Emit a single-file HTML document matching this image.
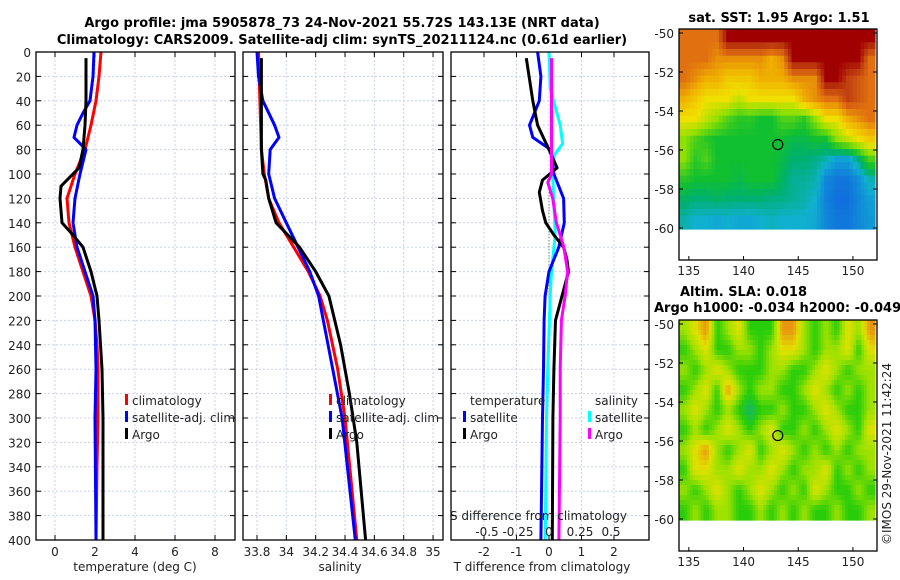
<!DOCTYPE html>
<html><head><meta charset="utf-8"><style>
body{margin:0;background:#fff}
svg{display:block;font-family:"DejaVu Sans","Liberation Sans",sans-serif}
.t{font-size:12px;fill:#222}
.b{font-weight:bold;font-size:13px;fill:#000}
</style></head><body>
<svg id="fig" width="900" height="580" viewBox="0 0 900 580">
<text class="b" x="342" y="27" text-anchor="middle">Argo profile: jma 5905878_73 24-Nov-2021 55.72S 143.13E (NRT data)</text>
<text class="b" x="342" y="44" text-anchor="middle">Climatology: CARS2009. Satellite-adj clim: synTS_20211124.nc (0.61d earlier)</text>
<text class="b" x="779" y="22" text-anchor="middle">sat. SST: 1.95 Argo: 1.51</text>
<text class="b" x="680" y="296">Altim. SLA: 0.018</text>
<text class="b" x="654" y="312">Argo h1000: -0.034 h2000: -0.049</text>
<text class="t" x="0" y="0" transform="translate(891,545) rotate(-90)">©IMOS 29-Nov-2021 11:42:24</text>
</svg>
<script>
const depthTicks=[0,20,40,60,80,100,120,140,160,180,200,220,240,260,280,300,320,340,360,380,400];
const tTicks=[0,2,4,6,8];
const sTicks=[33.8,34,34.2,34.4,34.6,34.8,35];
const dTicks=[-2,-1,0,1,2];
const dsTicks=[-0.5,-0.25,0,0.25,0.5];
const dsTickLabels=["-0.5","-0.25","0","0.25","0.5"];
// temperature profiles
const climTz=[0,20,40,60,80,100,120,140,160,180,200,220,240,260,300,340,400];
const climT=[2.3,2.2,2.05,1.8,1.5,1.0,0.6,0.7,1.0,1.4,1.8,2.0,2.1,2.15,2.15,2.1,2.05];
const satTz=[0,20,40,50,60,70,80,100,120,140,160,180,200,220,260,300,400];
const satT=[1.95,1.9,1.75,1.4,1.1,0.95,1.55,1.25,1.0,0.9,1.1,1.5,1.9,2.0,2.05,2.0,2.05];
const argoTz=[5,40,60,70,80,95,105,110,120,140,150,160,180,200,220,260,300,400];
const argoT=[1.55,1.55,1.5,1.45,1.4,1.2,0.6,0.3,0.25,0.35,0.9,1.4,1.8,2.1,2.2,2.35,2.4,2.4];
// salinity profiles
const climSz=[0,40,80,100,120,140,160,180,200,220,260,300,400];
const climS=[33.81,33.82,33.83,33.85,33.88,33.95,34.05,34.15,34.23,34.28,34.35,34.4,34.48];
const satSz=[0,20,40,60,70,80,100,120,140,160,180,200,250,300,400];
const satS=[33.80,33.81,33.84,33.92,33.95,33.89,33.88,33.92,34.0,34.08,34.16,34.22,34.3,34.38,34.47];
const argoSz=[5,80,100,105,120,140,160,180,200,240,280,320,360,400];
const argoS=[33.83,33.83,33.84,33.86,33.88,33.93,34.09,34.2,34.29,34.37,34.43,34.48,34.51,34.54];
// differences
const dTsz=[0,20,40,60,70,80,100,120,140,160,180,200,220,260,300,400];
const dTs=[-0.35,-0.25,-0.3,-0.6,-0.5,0.05,0.15,0.45,0.47,0.3,0.0,-0.12,-0.15,-0.17,-0.2,-0.25];
const dTaz=[5,40,60,80,95,105,115,130,140,150,160,170,180,190,200,220,260,300,400];
const dTa=[-0.7,-0.5,-0.35,0.0,0.25,-0.2,-0.3,-0.2,-0.1,0.15,0.45,0.55,0.6,0.5,0.4,0.2,0.15,0.12,0.1];
const dSsz=[0,30,60,75,85,100,150,180,200,260,300,400];
const dSs=[0.0,0.01,0.09,0.11,0.04,0.03,0.05,0.02,0.01,-0.01,-0.02,-0.03];
const dSaz=[5,100,107,120,140,160,180,200,220,260,300,400];
const dSa=[0.02,0.02,-0.01,0.03,0.06,0.12,0.15,0.13,0.1,0.09,0.09,0.08];
// maps
const mapLatTicks=[-50,-52,-54,-56,-58,-60];
const mapLonTicks=[135,140,145,150];
const sstGrid=[
[6,6,6,6,8,8,8,8,8,8,8,8,8,8,8,8,8,8],
[6,6,6,5.5,5.5,5.5,5.5,5.5,5,5.5,8,8,8,8,8,8,8,6],
[6,5.5,5,5,4.5,4.5,4.5,5,5,5,5.5,5.5,5.5,8,8,7,6.5,6],
[5,4.5,4,4,4,3.5,4,4,4,4,4,5,5.5,6,6,7,6.5,6],
[4,4,3.5,3,2.5,2.2,2.2,2,2,2.5,2.5,2.2,3,4,4,5,5.5,6],
[3,2.5,2.2,2,2,2,2,2,2,2,1.8,1.8,2,2,3,3.5,4,4.5],
[3,2.2,2.5,2,2,2,2,2,2,1.8,1.5,1.5,1.4,1.2,0.8,0.8,1.5,2.5],
[2.2,2,2,2,2,1.8,2,2,2,1.6,1.3,1.3,1.2,0.5,0.3,0.3,0.6,1.2],
[1.6,1.5,1.5,1.6,1.5,1.5,1.5,1.5,1.4,1.4,1.3,1.2,1.0,0.4,0.2,0.2,0.5,0.8],
[1.2,1.0,1.0,0.9,1.0,0.9,0.9,1.0,1.1,1.0,1.0,1.0,0.9,0.5,0.3,0.3,0.5,0.7]];
const slaGrid=[
[1,2,3,0,1,2,0,0,0,3,3,1,0,1,0,2,1,3],
[0,1,2,0,0,1,1,0,1,2,2,1,0,1,1,2,0,2],
[1,0,1,2,1,0,0,0,1,1,0,0,1,2,1,0,1,1],
[0,1,2,0,3,1,0,1,1,0,0,1,2,1,0,1,0,1],
[1,2,1,0,1,0,-1,0,0,1,0,0,1,2,1,0,0,1],
[0,1,0,1,2,1,0,1,2,0,0,1,0,1,2,1,0,2],
[1,2,3,1,0,1,2,0,1,2,1,0,1,0,1,0,1,1],
[0,2,2,1,1,2,1,1,2,1,0,1,1,2,0,1,0,1],
[1,0,1,2,1,0,1,2,1,0,1,0,2,1,0,0,1,0],
[0,1,0,1,1,0,0,1,0,1,0,1,0,0,1,0,0,1]];
const argoLon=143.13, argoLat=-55.72;

const NS='http://www.w3.org/2000/svg';
const svg=document.getElementById('fig');
function mk(tag,attrs,parent){const e=document.createElementNS(NS,tag);for(const k in attrs)e.setAttribute(k,attrs[k]);(parent||svg).appendChild(e);return e;}
const Y0=52,Y1=540;
const yD=d=>Y0+(d/400)*(Y1-Y0);

function panel(name,x0,x1,xs,ticks,labels){
  const g=mk('g',{});
  
  
  depthTicks.forEach(d=>{if(d>0&&d<400)mk('line',{x1:x0,x2:x1,y1:yD(d),y2:yD(d),stroke:'#c8d0f0','stroke-width':1,'stroke-dasharray':'2,2'},g);});
  ticks.forEach(v=>{const x=xs(v);mk('line',{x1:x,x2:x,y1:Y0,y2:Y1,stroke:'#c8d0f0','stroke-width':1,'stroke-dasharray':'2,2'},g);});
  ticks.forEach((v,i)=>{const x=xs(v);mk('line',{x1:x,x2:x,y1:Y1,y2:Y1-5,stroke:'#000'},g);mk('line',{x1:x,x2:x,y1:Y0,y2:Y0+5,stroke:'#000'},g);
    const t=mk('text',{x:x,y:Y1+16,'text-anchor':'middle',class:'t'},g);t.textContent=labels[i];
    
    });
  depthTicks.forEach(d=>{mk('line',{x1:x0,x2:x0+5,y1:yD(d),y2:yD(d),stroke:'#000'},g);mk('line',{x1:x1,x2:x1-5,y1:yD(d),y2:yD(d),stroke:'#000'},g);});
  return g;
}
function frame(g,x0,x1){mk('rect',{x:x0,y:Y0,width:x1-x0,height:Y1-Y0,fill:'none',stroke:'#000','stroke-width':1.3},g);}
function line(g,xs,vals,zs,color,name,w){
  const p=vals.map((v,i)=>xs(v).toFixed(1)+','+yD(zs[i]).toFixed(1)).join(' ');
  const l=mk('polyline',{points:p,fill:'none',stroke:color,'stroke-width':w||3,'stroke-linejoin':'round'},g);
  
  
}
function txt(g,x,y,s,anchor,name){const t=mk('text',{x:x,y:y,class:'t','text-anchor':anchor||'start'},g);t.textContent=s;
  
  return t;}
function legEntry(g,x,y,color,label){mk('rect',{x:x,y:y-11,width:3,height:11,fill:color},g);txt(g,x+7,y,label,'start','legend-entry');}

depthTicks.forEach(d=>{txt(svg,31,yD(d)+5,String(d),'end','y-tick-label');});

// Panel 1
const xT=v=>55+20*v;
let g1=panel('temperature-panel',36,235,xT,tTicks,tTicks.map(String));
line(g1,xT,climT,climTz,'#ff0000','climatology-temp-line');
line(g1,xT,satT,satTz,'#0000ff','satellite-temp-line');
line(g1,xT,argoT,argoTz,'#000000','argo-temp-line');
frame(g1,36,235);
legEntry(g1,125,405,'#ff0000','climatology');legEntry(g1,125,422,'#0000ff','satellite-adj. clim');legEntry(g1,125,439,'#000','Argo');
txt(g1,135,571,'temperature (deg C)','middle','x-axis-title-temperature');

// Panel 2
const xS=v=>257+(v-33.8)*146.7;
let g2=panel('salinity-panel',243,443,xS,sTicks,sTicks.map(String));
line(g2,xS,climS,climSz,'#ff0000','climatology-salinity-line');
line(g2,xS,satS,satSz,'#0000ff','satellite-salinity-line');
line(g2,xS,argoS,argoSz,'#000000','argo-salinity-line');
frame(g2,243,443);
legEntry(g2,329,405,'#ff0000','climatology');legEntry(g2,329,422,'#0000ff','satellite-adj. clim');legEntry(g2,329,439,'#000','Argo');
txt(g2,340,571,'salinity','middle','x-axis-title-salinity');

// Panel 3
const xdT=v=>549+32.5*v, xdS=v=>549+124*v;
let g3=panel('difference-panel',451,649,xdT,dTicks,dTicks.map(String));
mk('line',{x1:549,x2:549,y1:yD(110),y2:yD(280),stroke:'#446633','stroke-width':1,'stroke-dasharray':'1,2'},g3);
line(g3,xdS,dSs,dSsz,'#00ffff','satellite-salinity-diff-line');
line(g3,xdT,dTs,dTsz,'#0000ff','satellite-temp-diff-line');
line(g3,xdT,dTa,dTaz,'#000000','argo-temp-diff-line');
line(g3,xdS,dSa,dSaz,'#ff00ff','argo-salinity-diff-line');
frame(g3,451,649);
txt(g3,470,405,'temperature','start','legend-title-temperature');
legEntry(g3,463,422,'#0000ff','satellite');legEntry(g3,463,439,'#000','Argo');
txt(g3,595,405,'salinity','start','legend-title-salinity');
legEntry(g3,588,422,'#00ffff','satellite');legEntry(g3,588,439,'#ff00ff','Argo');
txt(g3,450,520,'S difference from climatology','start','s-diff-axis-title');
dsTicks.forEach((v,i)=>txt(g3,xdS(v),536,dsTickLabels[i],'middle','s-diff-tick-label'));
txt(g3,542,571,'T difference from climatology','middle','x-axis-title-tdiff');

// Maps
function cmap(stops,v){for(let i=1;i<stops.length;i++){if(v<=stops[i][0]){const a=stops[i-1],b=stops[i];const f=Math.max(0,(v-a[0])/(b[0]-a[0]));
  const c=a[1].map((c0,k)=>Math.round(c0+(b[1][k]-c0)*f));return 'rgb('+c.join(',')+')';}}return 'rgb('+stops[stops.length-1][1].join(',')+')';}
const sstStops=[[0,[16,96,224]],[1,[16,176,208]],[1.5,[0,176,112]],[2,[16,192,48]],[3,[144,224,0]],[4,[240,224,0]],[5,[240,176,0]],[6,[224,112,16]],[7,[192,64,16]],[8,[160,0,0]]];
const slaStops=[[-1,[20,180,110]],[0,[40,205,10]],[1,[160,225,0]],[2,[225,225,0]],[3,[232,150,16]]];
function sample(grid,fr,fc){
  const R=grid.length,C=grid[0].length;
  fr=Math.min(Math.max(fr,0),R-1);fc=Math.min(Math.max(fc,0),C-1);
  const r0=Math.floor(fr),c0=Math.floor(fc),r1=Math.min(r0+1,R-1),c1=Math.min(c0+1,C-1);
  const a=fr-r0,b=fc-c0;
  return (grid[r0][c0]*(1-b)+grid[r0][c1]*b)*(1-a)+(grid[r1][c0]*(1-b)+grid[r1][c1]*b)*a;
}
function map(name,top,grid,stops,n){
  const g=mk('g',{});
  
  
  const X0=679,X1=877,lonMin=134.1,lonMax=152.2;
  const latY=l=>top+4+(-50-l)*19.5;
  const lonX=l=>X0+(l-lonMin)/(lonMax-lonMin)*(X1-X0);
  const rows=grid.length,cols=grid[0].length;
  const yT=top, yB=latY(-60.05);
  const NR=rows*n,NC=cols*n,w=(X1-2-X0)/NC,h=(yB-yT)/NR;
  for(let i=0;i<NR;i++)for(let j=0;j<NC;j++){
    const v=sample(grid,(i+0.5)/n-0.5,(j+0.5)/n-0.5);
    const cell=mk('rect',{x:(X0+j*w).toFixed(1),y:(yT+i*h).toFixed(1),width:(w+0.6).toFixed(1),height:(h+0.6).toFixed(1),fill:cmap(stops,v)},g);
    
    
  }
  const bot=top+231;
  mk('rect',{x:X0,y:top,width:X1-X0,height:bot-top,fill:'none',stroke:'#000','stroke-width':1.3},g);
  mapLatTicks.forEach(l=>{const y=latY(l);mk('line',{x1:X0,x2:X0+4,y1:y,y2:y,stroke:'#000'},g);mk('line',{x1:X1,x2:X1-4,y1:y,y2:y,stroke:'#000'},g);
    txt(g,674,y+5,String(l),'end','map-lat-label');});
  mapLonTicks.forEach(l=>{const x=lonX(l);mk('line',{x1:x,x2:x,y1:bot,y2:bot-4,stroke:'#000'},g);txt(g,x,bot+15,String(l),'middle','map-lon-label');});
  const c=mk('circle',{cx:lonX(argoLon),cy:latY(argoLat),r:5,fill:'none',stroke:'#000','stroke-width':1.2},g);
  
  
}
map('sst-map',29,sstGrid,sstStops,3);
map('sla-map',320,slaGrid,slaStops,4);
</script>
</body></html>
